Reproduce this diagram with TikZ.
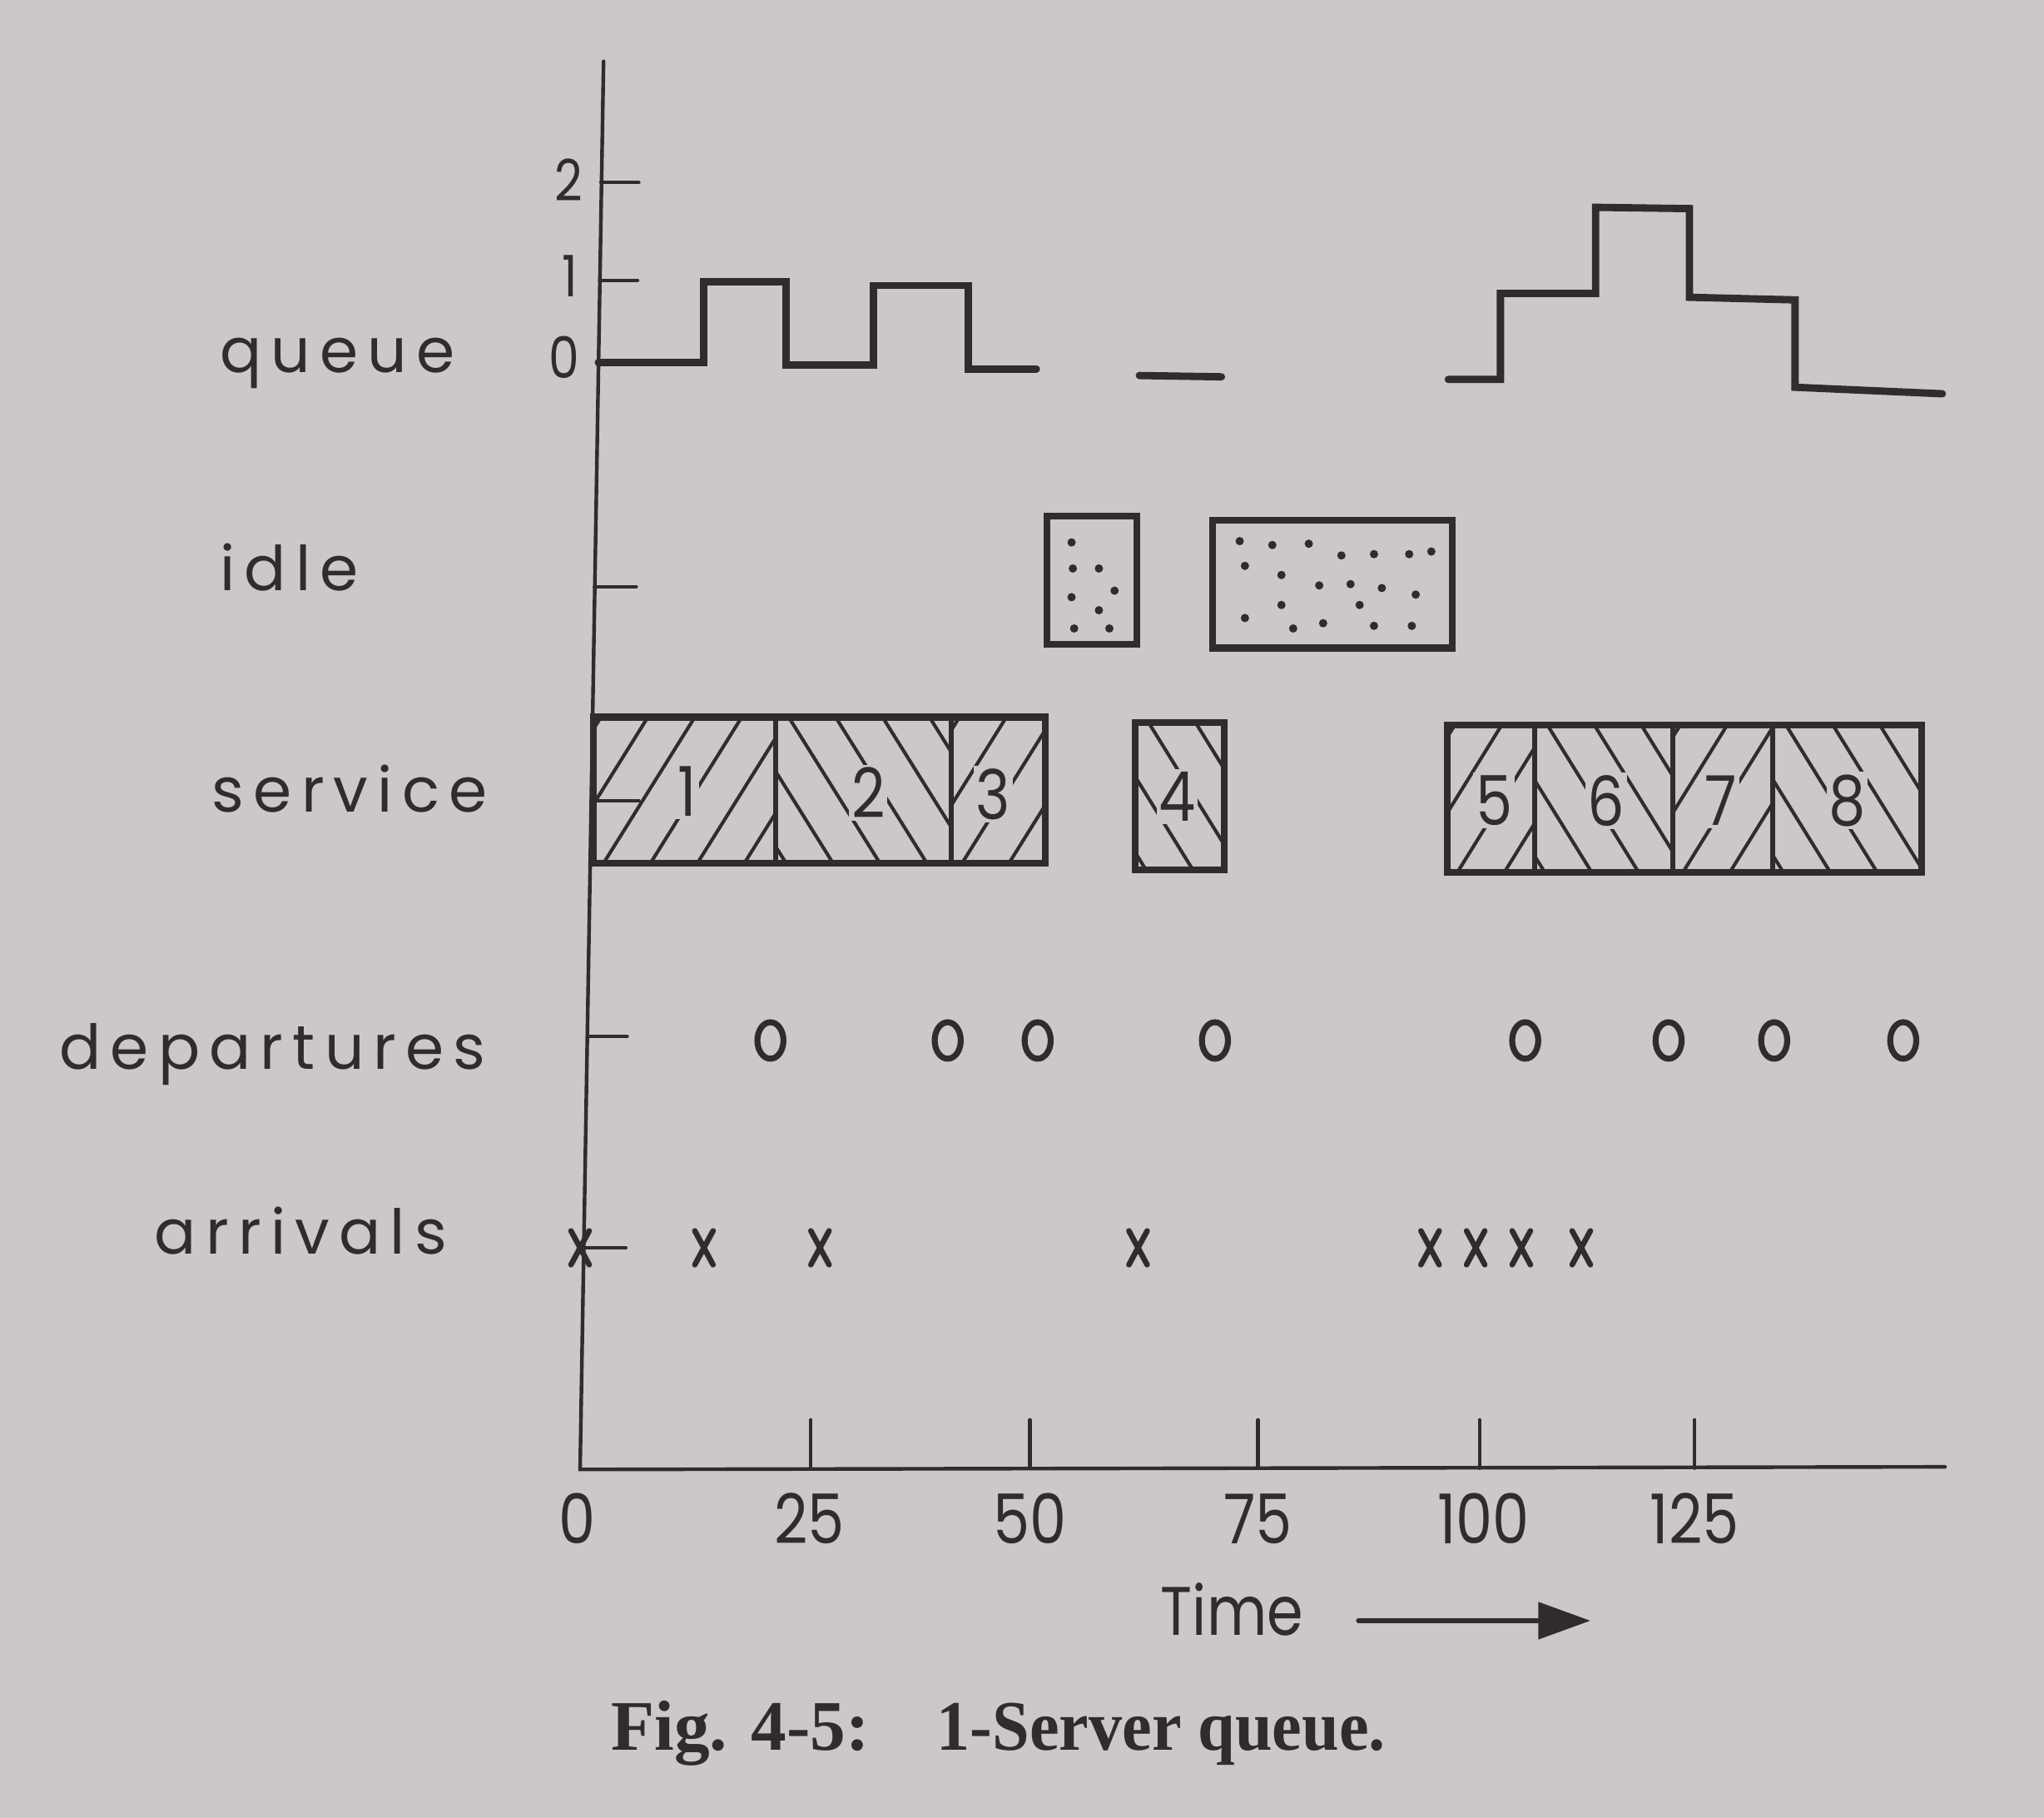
\documentclass[tikz,border=0pt]{standalone}
\usepackage{fontspec}
\usetikzlibrary{arrows.meta}
\setmainfont{Liberation Serif}
\newfontfamily\lblfont[LetterSpace=15]{Poppins}
\newfontfamily\numfont{Poppins}
\definecolor{paper}{RGB}{203,199,202}
\definecolor{ink}{RGB}{50,43,43}
% hatched service box: left, right, top, bottom, +1 for / or -1 for \
\newcommand\hatchbox[5]{\begin{scope}\clip(#1,#3)rectangle(#2,#4);
\foreach\h in{-1,-.64,...,2.3}{\draw[hatch]({#1+\h},#4)--++({#5*.7},{#3-#4});}\end{scope}}

\begin{document}
\begin{tikzpicture}[line cap=round,ink,
 axis/.style={line width=.8pt},qline/.style={line width=1.6pt},
 box/.style={line width=1.5pt},divi/.style={line width=1.1pt},hatch/.style={line width=.75pt},
 lbl/.style={font=\lblfont\fontsize{13.5}{14}\selectfont,anchor=base west,inner sep=0pt},
 num/.style={font=\numfont\fontsize{15}{15}\selectfont,xscale=.85,anchor=base,inner sep=0pt},
 dig/.style={font=\numfont\fontsize{15}{15}\selectfont,xscale=.85,fill=paper,inner sep=.6pt},
 xmk/.style={line width=1.2pt},dep/.style={line width=1.3pt}]
\fill[paper](0,0)rectangle(15.68,-13.94);
\useasboundingbox(0,0)rectangle(15.68,-13.94);
% axes
\draw[axis](4.63,-.47)--(4.45,-11.27)--(14.92,-11.25);
\foreach\x in{6.22,7.90,9.65,11.35,13.00}\draw[axis](\x,-10.89)--(\x,-11.26);
\node[num](t0)at(4.43,-11.84){0};\node[num](t25)at(6.21,-11.84){25};\node[num](t50)at(7.90,-11.84){50};
\node[num](t75)at(9.65,-11.84){75};\node[num](t100)at(11.38,-11.84){100};\node[num](t125)at(13.00,-11.84){125};
\node[num,anchor=base west](time)at(8.90,-12.54){Time};
\coordinate(tend)at(12.20,-12.43);
\draw[line width=1pt,-{Triangle[length=4mm,width=2.8mm]}](10.42,-12.43)--(tend);
% row labels
\node[lbl](lq)at(1.68,-2.86){queue};\node[lbl](li)at(1.68,-4.53){idle};
\node[lbl](ls)at(1.62,-6.23){service};\node[lbl](ld)at(.45,-8.20){departures};
\node[lbl](la)at(1.18,-9.62){arrivals};
% queue
\draw[axis](4.61,-1.40)--(4.90,-1.40)(4.60,-2.15)--(4.89,-2.15);
\node[num,font=\numfont\fontsize{12.5}{13}\selectfont,anchor=center](q2)at(4.36,-1.38){2};
\node[num,font=\numfont\fontsize{12.5}{13}\selectfont,anchor=center](q1)at(4.37,-2.12){1};
\node[num,font=\numfont\fontsize{12.5}{13}\selectfont,anchor=center](q0)at(4.33,-2.74){0};
\draw[qline](4.59,-2.78)--(5.40,-2.78)--(5.40,-2.16)--(6.03,-2.16)--(6.03,-2.80)--(6.70,-2.80)--(6.70,-2.19)--(7.43,-2.19)--(7.43,-2.83)--(7.95,-2.83);
\draw[qline](8.74,-2.88)--(9.37,-2.89);
\draw[qline](11.11,-2.91)--(11.51,-2.91)--(11.51,-2.25)--(12.24,-2.25)--(12.24,-1.59)--(12.96,-1.60)--(12.96,-2.28)--(13.77,-2.30)--(13.77,-2.97)--(14.90,-3.02);
% idle
\draw[axis](4.56,-4.50)--(4.88,-4.50);
\draw[box](8.03,-3.96)rectangle(8.72,-4.94);\draw[box](9.30,-3.99)rectangle(11.14,-4.97);
\foreach\p in{(8.22,-4.16),(8.23,-4.36),(8.43,-4.36),(8.55,-4.53),(8.22,-4.58),(8.43,-4.68),(8.24,-4.82),(8.51,-4.82)}\fill\p circle(.032);
\foreach\p in{(9.51,-4.15),(9.76,-4.18),(10.04,-4.17),(10.29,-4.26),(10.54,-4.25),(10.81,-4.25),(10.98,-4.23),(9.55,-4.34),(9.83,-4.41),(10.12,-4.49),(10.36,-4.48),(10.60,-4.51),(10.86,-4.56),(9.83,-4.64),(10.43,-4.64),(9.55,-4.74),(9.92,-4.82),(10.15,-4.78),(10.54,-4.80),(10.83,-4.80)}\fill\p circle(.032);
% service
\hatchbox{4.55}{5.95}{-5.50}{-6.62}{1}\hatchbox{5.95}{7.30}{-5.50}{-6.62}{-1}\hatchbox{7.30}{8.02}{-5.50}{-6.62}{1}
\hatchbox{8.71}{9.39}{-5.54}{-6.67}{-1}
\hatchbox{11.10}{11.77}{-5.56}{-6.69}{1}\hatchbox{11.77}{12.83}{-5.56}{-6.69}{-1}\hatchbox{12.83}{13.60}{-5.56}{-6.69}{1}\hatchbox{13.60}{14.74}{-5.56}{-6.69}{-1}
\draw[box](4.55,-5.50)rectangle(8.02,-6.62);\draw[divi](5.95,-5.50)--(5.95,-6.62)(7.30,-5.50)--(7.30,-6.62);
\draw[box](8.71,-5.54)rectangle(9.39,-6.67);
\draw[box](11.10,-5.56)rectangle(14.74,-6.69);\draw[divi](11.77,-5.56)--(11.77,-6.69)(12.83,-5.56)--(12.83,-6.69)(13.60,-5.56)--(13.60,-6.69);
\draw[axis](4.55,-6.14)--(4.90,-6.14);
\node[dig](s1)at(5.27,-6.07){1};\node[dig](s2)at(6.66,-6.08){2};\node[dig](s3)at(7.62,-6.09){3};
\node[dig](s4)at(9.03,-6.11){4};\node[dig](s5)at(11.46,-6.14){5};\node[dig](s6)at(12.32,-6.14){6};
\node[dig](s7)at(13.20,-6.14){7};\node[dig](s8)at(14.17,-6.14){8};
% departures
\draw[axis](4.51,-7.95)--(4.81,-7.95);
\foreach\x in{5.91,7.27,7.96,9.32,11.70,12.80,13.61,14.60}\draw[dep](\x,-7.98)ellipse[x radius=.10,y radius=.14];
% arrivals
\draw[axis](4.45,-9.57)--(4.80,-9.57);
\foreach\x in{4.45,5.40,6.29,8.73,10.97,11.32,11.67,12.13}\draw[xmk](\x-.07,-9.44)--(\x+.07,-9.70)(\x+.07,-9.44)--(\x-.07,-9.70);
% caption
\node[anchor=base west,inner sep=0pt,font=\bfseries\fontsize{15.5}{16}\selectfont](cap1)at(4.68,-13.42){Fig. 4-5:};
\node[anchor=base west,inner sep=0pt,xscale=.94,font=\bfseries\fontsize{15.5}{16}\selectfont](cap2)at(7.18,-13.42){1-Server queue.};
\end{tikzpicture}
\end{document}
